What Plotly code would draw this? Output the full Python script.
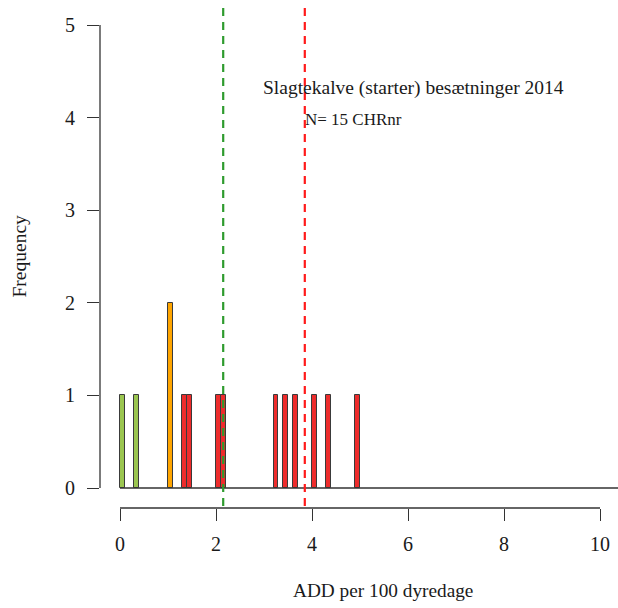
import plotly.graph_objects as go

# Histogram bins (width 0.1): bin centres and counts per colour group
green_x = [0.05, 0.35]
green_y = [1, 1]
orange_x = [1.05]
orange_y = [2]
red_x = [1.35, 1.45, 2.05, 2.15, 3.25, 3.45, 3.65, 4.05, 4.35, 4.95]
red_y = [1, 1, 1, 1, 1, 1, 1, 1, 1, 1]
bin_width = 0.1

mean_green = 2.15
mean_red = 3.85

x_ticks = [0, 2, 4, 6, 8, 10]
y_ticks = [0, 1, 2, 3, 4, 5]

title_text = "Slagtekalve (starter) besætninger 2014"
n_text = "N= 15 CHRnr"
x_title = "ADD per 100 dyredage"
y_title = "Frequency"

FONT = "Liberation Serif, Times New Roman, serif"
GREEN = "#9BC650"
ORANGE = "#FFA500"
RED = "#EE2C2C"
OUT = "#3a3a3a"

fig = go.Figure()
for xs, ys, col in [(green_x, green_y, GREEN), (orange_x, orange_y, ORANGE), (red_x, red_y, RED)]:
    fig.add_trace(go.Bar(x=xs, y=ys, width=bin_width, marker=dict(color=col, line=dict(color=OUT, width=1)),
                         showlegend=False, hoverinfo="skip"))

XMIN, XMAX = -20 / 48, 498 / 48
YMIN, YMAX = -20 / 92.6, 488 / 92.6

shapes = []
# baseline
shapes.append(dict(type="line", xref="x", yref="y", x0=0, x1=XMAX, y0=0, y1=0,
                   line=dict(color="#333333", width=1.3)))
# y axis line
shapes.append(dict(type="line", xref="paper", yref="y", x0=0, x1=0, y0=0, y1=5,
                   line=dict(color="#333333", width=1.3)))
# x axis line
shapes.append(dict(type="line", xref="x", yref="paper", x0=0, x1=10, y0=0, y1=0,
                   line=dict(color="#333333", width=1.3)))
# mean lines
for m, col in [(mean_green, "#2E9B2E"), (mean_red, "#FF1A1A")]:
    shapes.append(dict(type="line", xref="x", yref="y", x0=m, x1=m, y0=YMIN + 2 / 92.6, y1=YMAX - 7 / 92.6,
                       line=dict(color=col, width=2.2, dash="8px,6px")))

PW, PH = 518, 508  # plot area size in px

fig.update_layout(
    width=618, height=608,
    margin=dict(l=100, r=0, t=0, b=100),
    plot_bgcolor="white", paper_bgcolor="white",
    bargap=0,
    font=dict(family=FONT, size=20, color="#1a1a1a"),
    shapes=shapes,
    xaxis=dict(range=[XMIN, XMAX], tickvals=x_ticks, ticks="outside", ticklen=12, tickwidth=1.3,
               tickcolor="#333333", showgrid=False, zeroline=False, showline=False,
               ticklabelstandoff=6, automargin=False),
    yaxis=dict(range=[YMIN, YMAX], tickvals=y_ticks, ticks="outside", ticklen=12, tickwidth=1.3,
               tickcolor="#333333", showgrid=False, zeroline=False, showline=False,
               ticklabelstandoff=8, automargin=False),
    annotations=[
        dict(x=(413 - 120) / 48, y=(488 - 88) / 92.6, xref="x", yref="y", text=title_text,
             showarrow=False, font=dict(size=19.5), xanchor="center", yanchor="middle"),
        dict(x=(303 - 120) / 48, y=(488 - 119) / 92.6, xref="x", yref="y", text=n_text,
             showarrow=False, font=dict(size=17), xanchor="left", yanchor="middle"),
        dict(x=(383 - 120) / 48, y=-(590 - PH) / PH, xref="x", yref="paper", text=x_title,
             showarrow=False, font=dict(size=19.3), xanchor="center", yanchor="middle"),
        dict(x=(18.5 - 100) / PW, y=(PH - 256) / PH, xref="paper", yref="paper", text=y_title,
             showarrow=False, font=dict(size=19.5), textangle=-90, xanchor="center", yanchor="middle"),
    ],
)

fig.write_html("out.html", config={"displayModeBar": False},
               post_script="document.body.style.margin='0';document.body.style.overflow='hidden';")
